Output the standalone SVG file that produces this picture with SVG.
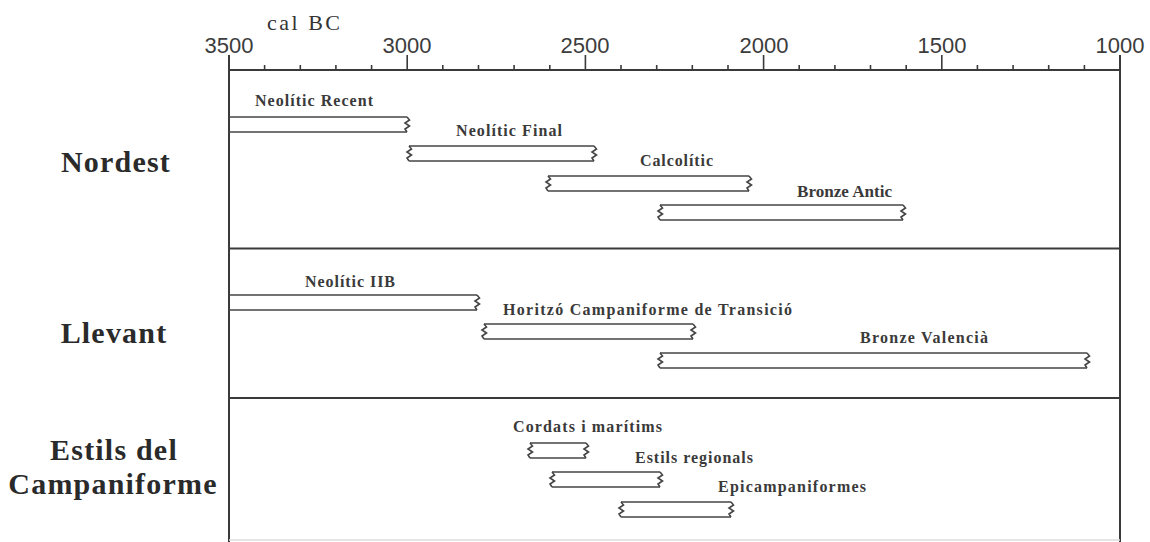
<svg xmlns="http://www.w3.org/2000/svg" xmlns:xlink="http://www.w3.org/1999/xlink" width="1150" height="542" viewBox="0 0 1150 542">
<style>
.frame{stroke:#3a3a3a;stroke-width:2;fill:none}
.tick{stroke:#3a3a3a;stroke-width:1.6}
.num{font-family:"Liberation Sans",Arial,sans-serif;font-size:22px;fill:#3c3c3c;text-anchor:middle}
.unit{font-family:"Liberation Serif","Times New Roman",serif;font-size:22px;fill:#333;letter-spacing:2.5px}
.region{font-family:"Liberation Serif","Times New Roman",serif;font-size:30px;font-weight:bold;fill:#2a2a2a;text-anchor:middle;letter-spacing:1.2px}
.lbl{font-family:"Liberation Serif","Times New Roman",serif;font-size:16px;font-weight:bold;fill:#3a3a3a}
.bar{stroke:#444;stroke-width:1.6;fill:#fff}
.zz{stroke:#444;stroke-width:1.6;fill:none}
</style>
<defs>
<path id="zz" d="M0 0 L2.5 3 L-2 6 L2.5 9 L-2 12 L0 15" class="zz"/>
</defs>
<rect x="0" y="0" width="1150" height="542" fill="#fff"/>
<g id="axis">
<text class="unit" x="267" y="30">cal BC</text>
<line class="frame" x1="229" y1="70" x2="1120" y2="70"/>
<g class="tick">
<line x1="229" y1="55" x2="229" y2="70"/>
<line x1="264.6" y1="65" x2="264.6" y2="70"/>
<line x1="300.3" y1="65" x2="300.3" y2="70"/>
<line x1="335.9" y1="65" x2="335.9" y2="70"/>
<line x1="371.6" y1="65" x2="371.6" y2="70"/>
<line x1="407.2" y1="55" x2="407.2" y2="70"/>
<line x1="442.8" y1="65" x2="442.8" y2="70"/>
<line x1="478.5" y1="65" x2="478.5" y2="70"/>
<line x1="514.1" y1="65" x2="514.1" y2="70"/>
<line x1="549.8" y1="65" x2="549.8" y2="70"/>
<line x1="585.4" y1="55" x2="585.4" y2="70"/>
<line x1="621" y1="65" x2="621" y2="70"/>
<line x1="656.7" y1="65" x2="656.7" y2="70"/>
<line x1="692.3" y1="65" x2="692.3" y2="70"/>
<line x1="728" y1="65" x2="728" y2="70"/>
<line x1="763.6" y1="55" x2="763.6" y2="70"/>
<line x1="799.2" y1="65" x2="799.2" y2="70"/>
<line x1="834.9" y1="65" x2="834.9" y2="70"/>
<line x1="870.5" y1="65" x2="870.5" y2="70"/>
<line x1="906.2" y1="65" x2="906.2" y2="70"/>
<line x1="941.8" y1="55" x2="941.8" y2="70"/>
<line x1="977.4" y1="65" x2="977.4" y2="70"/>
<line x1="1013.1" y1="65" x2="1013.1" y2="70"/>
<line x1="1048.7" y1="65" x2="1048.7" y2="70"/>
<line x1="1084.4" y1="65" x2="1084.4" y2="70"/>
<line x1="1120" y1="55" x2="1120" y2="70"/>
</g>
<text class="num" x="229" y="53">3500</text>
<text class="num" x="407" y="53">3000</text>
<text class="num" x="585" y="53">2500</text>
<text class="num" x="764" y="53">2000</text>
<text class="num" x="942" y="53">1500</text>
<text class="num" x="1120" y="53">1000</text>
</g>
<g id="frame">
<line class="frame" x1="229" y1="55" x2="229" y2="542"/>
<line class="frame" x1="1120" y1="55" x2="1120" y2="542"/>
<line class="frame" x1="229" y1="248.5" x2="1120" y2="248.5"/>
<line class="frame" x1="229" y1="398" x2="1120" y2="398"/>
<line x1="229" y1="540" x2="1120" y2="540" stroke="#ddd" stroke-width="1.5"/>
</g>
<g id="regions">
<text class="region" x="116" y="172">Nordest</text>
<text class="region" x="114" y="343">Llevant</text>
<text class="region" x="114" y="460">Estils del</text>
<text class="region" x="113" y="494">Campaniforme</text>
</g>
<g id="neolitic-recent">
<line class="bar" x1="229" y1="117" x2="407" y2="117"/>
<line class="bar" x1="229" y1="132" x2="407" y2="132"/>
<use xlink:href="#zz" x="407" y="117"/>
<text class="lbl" x="255" y="106" textLength="118" lengthAdjust="spacing">Neolític Recent</text>
</g>
<g id="neolitic-final">
<line class="bar" x1="409" y1="146" x2="594" y2="146"/>
<line class="bar" x1="409" y1="161" x2="594" y2="161"/>
<use xlink:href="#zz" x="409" y="146"/>
<use xlink:href="#zz" x="594" y="146"/>
<text class="lbl" x="456" y="136" textLength="106" lengthAdjust="spacing">Neolític Final</text>
</g>
<g id="calcolitic">
<line class="bar" x1="548" y1="176" x2="749" y2="176"/>
<line class="bar" x1="548" y1="191" x2="749" y2="191"/>
<use xlink:href="#zz" x="548" y="176"/>
<use xlink:href="#zz" x="749" y="176"/>
<text class="lbl" x="640" y="166" textLength="73" lengthAdjust="spacing">Calcolític</text>
</g>
<g id="bronze-antic">
<line class="bar" x1="660" y1="205" x2="903" y2="205"/>
<line class="bar" x1="660" y1="220" x2="903" y2="220"/>
<use xlink:href="#zz" x="660" y="205"/>
<use xlink:href="#zz" x="903" y="205"/>
<text class="lbl" x="797" y="197" textLength="95" lengthAdjust="spacingAndGlyphs">Bronze Antic</text>
</g>
<g id="neolitic-iib">
<line class="bar" x1="229" y1="295" x2="477" y2="295"/>
<line class="bar" x1="229" y1="310" x2="477" y2="310"/>
<use xlink:href="#zz" x="477" y="295"/>
<text class="lbl" x="305" y="287" textLength="90" lengthAdjust="spacing">Neolític IIB</text>
</g>
<g id="horitzo">
<line class="bar" x1="484" y1="324" x2="693" y2="324"/>
<line class="bar" x1="484" y1="339" x2="693" y2="339"/>
<use xlink:href="#zz" x="484" y="324"/>
<use xlink:href="#zz" x="693" y="324"/>
<text class="lbl" x="503" y="315" textLength="289" lengthAdjust="spacing">Horitzó Campaniforme de Transició</text>
</g>
<g id="bronze-valencia">
<line class="bar" x1="660" y1="353" x2="1087" y2="353"/>
<line class="bar" x1="660" y1="368" x2="1087" y2="368"/>
<use xlink:href="#zz" x="660" y="353"/>
<use xlink:href="#zz" x="1087" y="353"/>
<text class="lbl" x="860" y="343" textLength="128" lengthAdjust="spacing">Bronze Valencià</text>
</g>
<g id="cordats">
<line class="bar" x1="530" y1="443" x2="586" y2="443"/>
<line class="bar" x1="530" y1="458" x2="586" y2="458"/>
<use xlink:href="#zz" x="530" y="443"/>
<use xlink:href="#zz" x="586" y="443"/>
<text class="lbl" x="513" y="432" textLength="149" lengthAdjust="spacing">Cordats i marítims</text>
</g>
<g id="estils-regionals">
<line class="bar" x1="552" y1="472" x2="660" y2="472"/>
<line class="bar" x1="552" y1="487" x2="660" y2="487"/>
<use xlink:href="#zz" x="552" y="472"/>
<use xlink:href="#zz" x="660" y="472"/>
<text class="lbl" x="635" y="463" textLength="118" lengthAdjust="spacing">Estils regionals</text>
</g>
<g id="epicampaniformes">
<line class="bar" x1="621" y1="502" x2="731" y2="502"/>
<line class="bar" x1="621" y1="517" x2="731" y2="517"/>
<use xlink:href="#zz" x="621" y="502"/>
<use xlink:href="#zz" x="731" y="502"/>
<text class="lbl" x="718" y="492" textLength="148" lengthAdjust="spacing">Epicampaniformes</text>
</g>
</svg>
